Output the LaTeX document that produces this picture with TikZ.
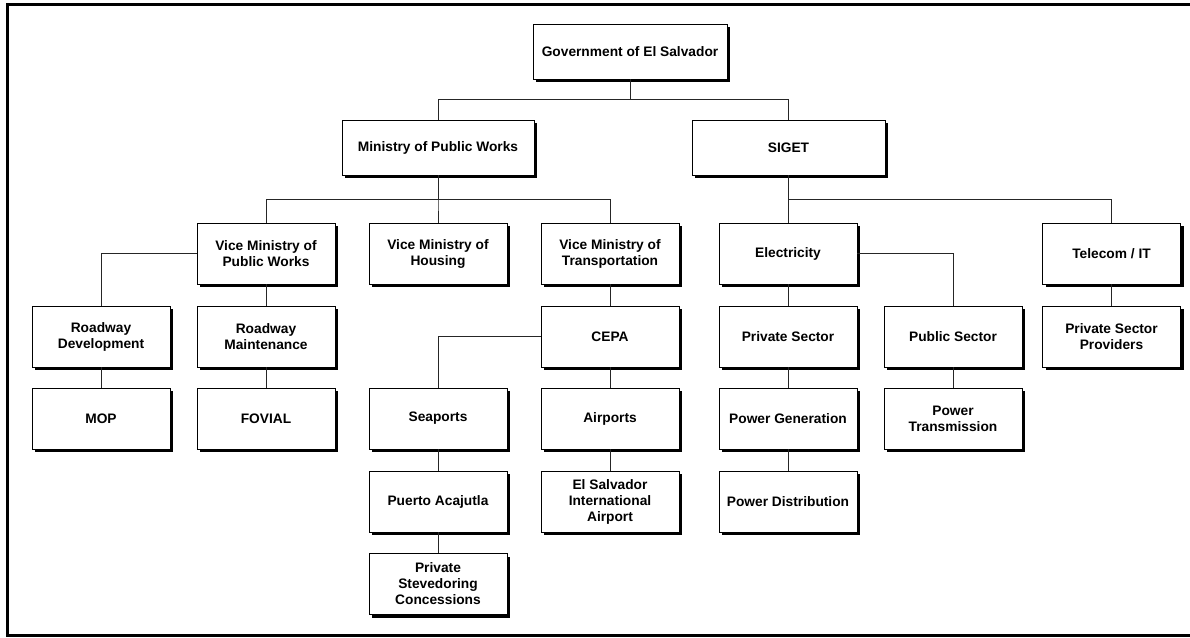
\documentclass[tikz,border=0pt]{standalone}
\usepackage{fontspec}
\setmainfont{Liberation Sans}
\usetikzlibrary{shadows}
\begin{document}
\begin{tikzpicture}[x=1pt,y=-1pt,
  orgbox/.style={draw=black, fill=white, line width=0.8pt, minimum width=138pt, minimum height=61pt,
    inner sep=0pt, align=center, font=\fontsize{13.75}{16}\selectfont\bfseries,
    drop shadow={shadow xshift=3pt, shadow yshift=-3pt, fill=black, opacity=1}},
  topbox/.style={orgbox, minimum height=55pt},
  conn/.style={draw=black!85, line width=0.8pt},
  frame/.style={draw=black, line width=3pt}]
\useasboundingbox (0,0) rectangle (1190,637);
\draw[frame] (1192,4.7) -- (7.5,4.7) -- (7.5,635.5) -- (1192,635.5);
% level 1-2
\node[topbox, minimum width=194pt] (gov) at (630,51.5) {Government of El Salvador};
\node[topbox, minimum width=192pt] (min) at (438,147.5) {Ministry of Public Works};
\node[topbox, minimum width=193pt] (siget) at (788.5,147.5) {SIGET};
% level 3
\node[orgbox] (vmpw) at (266,253.5) {Vice Ministry of\\Public Works};
\node[orgbox] (vmh) at (438,253.5) {Vice Ministry of\\Housing};
\node[orgbox] (vmt) at (610,253.5) {Vice Ministry of\\Transportation};
\node[orgbox] (elec) at (788,253.5) {Electricity};
\node[orgbox] (tel) at (1111.5,253.5) {Telecom / IT};
% level 4
\node[orgbox] (rdev) at (101,336.5) {Roadway\\Development};
\node[orgbox] (rmaint) at (266,336.5) {Roadway\\Maintenance};
\node[orgbox] (cepa) at (610,336.5) {CEPA};
\node[orgbox] (priv) at (788,336.5) {Private Sector};
\node[orgbox] (pub) at (953,336.5) {Public Sector};
\node[orgbox] (psp) at (1111.5,336.5) {Private Sector\\Providers};
% level 5
\node[orgbox] (mop) at (101,418.5) {MOP};
\node[orgbox] (fovial) at (266,418.5) {FOVIAL};
\node[orgbox] (sea) at (438,418.5) {Seaports};
\node[orgbox] (air) at (610,418.5) {Airports};
\node[orgbox] (pgen) at (788,418.5) {Power Generation};
\node[orgbox] (ptrans) at (953,418.5) {Power\\Transmission};
% level 6
\node[orgbox] (pa) at (438,501.5) {Puerto Acajutla};
\node[orgbox] (esia) at (610,501.5) {El Salvador\\International\\Airport};
\node[orgbox] (pdist) at (788,501.5) {Power Distribution};
% level 7
\node[orgbox] (psc) at (438,584) {Private\\Stevedoring\\Concessions};
% connectors
\draw[conn] (gov.south) -- ++(0,20) -| (min.north);
\draw[conn] (gov.south) -- ++(0,20) -| (siget.north);
\draw[conn] (min.south) -- ++(0,24) -| (vmpw.north);
\draw[conn] (min.south) -- ++(0,24) -| (vmh.north);
\draw[conn] (min.south) -- ++(0,24) -| (vmt.north);
\draw[conn] (siget.south) -- ++(0,24) -| (elec.north);
\draw[conn] (siget.south) -- ++(0,24) -| (tel.north);
\draw[conn] (vmpw.west) -| (rdev.north);
\draw[conn] (vmpw.south) -- (rmaint.north);
\draw[conn] (rdev.south) -- (mop.north);
\draw[conn] (rmaint.south) -- (fovial.north);
\draw[conn] (vmt.south) -- (cepa.north);
\draw[conn] (cepa.west) -| (sea.north);
\draw[conn] (cepa.south) -- (air.north);
\draw[conn] (sea.south) -- (pa.north);
\draw[conn] (pa.south) -- (psc.north);
\draw[conn] (air.south) -- (esia.north);
\draw[conn] (elec.south) -- (priv.north);
\draw[conn] (elec.east) -| (pub.north);
\draw[conn] (priv.south) -- (pgen.north);
\draw[conn] (pgen.south) -- (pdist.north);
\draw[conn] (pub.south) -- (ptrans.north);
\draw[conn] (tel.south) -- (psp.north);
\end{tikzpicture}
\end{document}
